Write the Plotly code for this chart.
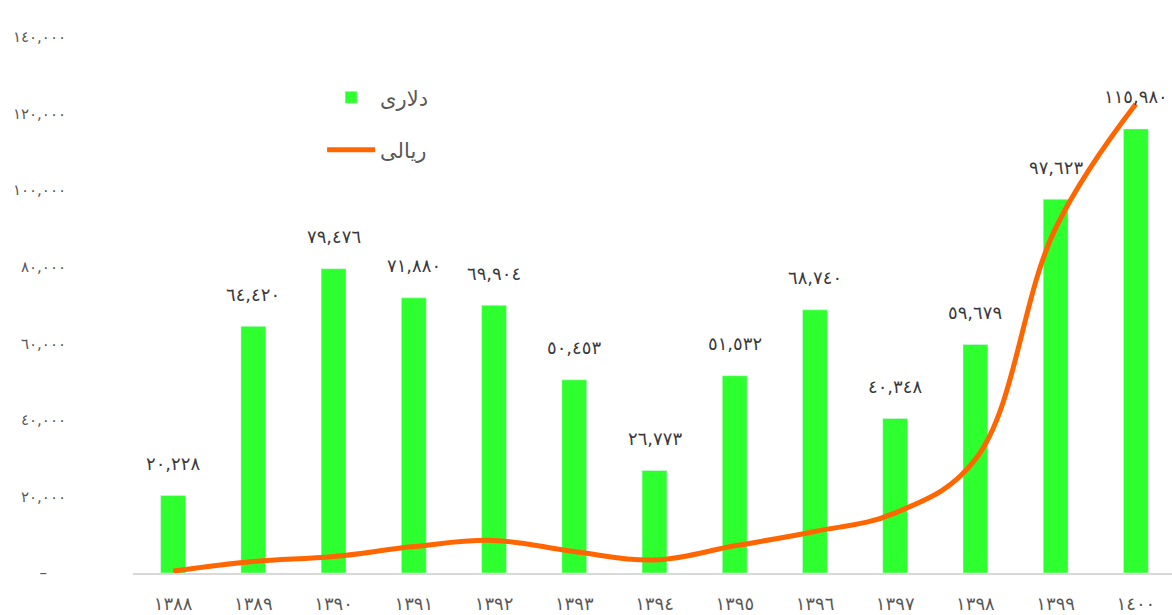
import plotly.graph_objects as go

years = ["١٣٨٨", "١٣٨٩", "١٣٩٠", "١٣٩١", "١٣٩٢", "١٣٩٣", "١٣٩٤",
         "١٣٩٥", "١٣٩٦", "١٣٩٧", "١٣٩٨", "١٣٩٩", "١٤٠٠"]
dollar = [20228, 64420, 79476, 71880, 69904, 50453, 26773,
          51532, 68740, 40348, 59679, 97623, 115980]
rial = [500, 3000, 4300, 6900, 8500, 5600, 3400,
        7100, 10850, 15700, 29700, 90100, 122500]
ytick_vals = [0, 20000, 40000, 60000, 80000, 100000, 120000, 140000]
ytick_text = ["–    ", "٢٠,٠٠٠", "٤٠,٠٠٠", "٦٠,٠٠٠", "٨٠,٠٠٠",
              "١٠٠,٠٠٠", "١٢٠,٠٠٠", "١٤٠,٠٠٠"]
name_dollar = "دلاری"
name_rial = "ریالی"

PERSIAN = str.maketrans("0123456789", "٠١٢٣٤٥٦٧٨٩")


def fa(v):
    return f"{v:,}".translate(PERSIAN)


FONT = "DejaVu Sans"

fig = go.Figure()
fig.add_trace(go.Bar(
    x=years, y=dollar, name=name_dollar, marker_color="#2EFF2E",
    legendgroup="a", showlegend=True,
))
fig.add_trace(go.Scatter(
    x=years, y=rial, name=name_rial, mode="lines",
    line=dict(color="#FF6600", width=5, shape="spline", smoothing=1.1),
    legendgroup="b",
))

for yr, v in zip(years, dollar):
    fig.add_annotation(x=yr, y=v, text=fa(v), showarrow=False,
                       yshift=32, font=dict(family=FONT, size=18, color="#3a3a3a"))

fig.update_layout(
    width=1172, height=615,
    margin=dict(l=133, r=0, t=37, b=42),
    paper_bgcolor="white", plot_bgcolor="white",
    bargap=0.69,
    font=dict(family=FONT, color="#595959"),
    legend=dict(x=0.182, y=0.925, xanchor="left", yanchor="top",
                font=dict(size=21, color="#595959"),
                tracegroupgap=22, traceorder="grouped", itemwidth=48,
                bgcolor="rgba(0,0,0,0)"),
    xaxis=dict(type="category", range=[-0.5, 12.45], showgrid=False,
               showline=True, linecolor="#d9d9d9", linewidth=2,
               ticks="", tickfont=dict(size=18, color="#595959"),
               ticklabelstandoff=13, zeroline=False),
    yaxis=dict(range=[0, 140000], tickvals=ytick_vals, ticktext=ytick_text,
               showgrid=False, showline=False, zeroline=False, ticks="",
               tickfont=dict(size=15, color="#595959"),
               ticklabelstandoff=66),
)

fig.write_html("out.html")
